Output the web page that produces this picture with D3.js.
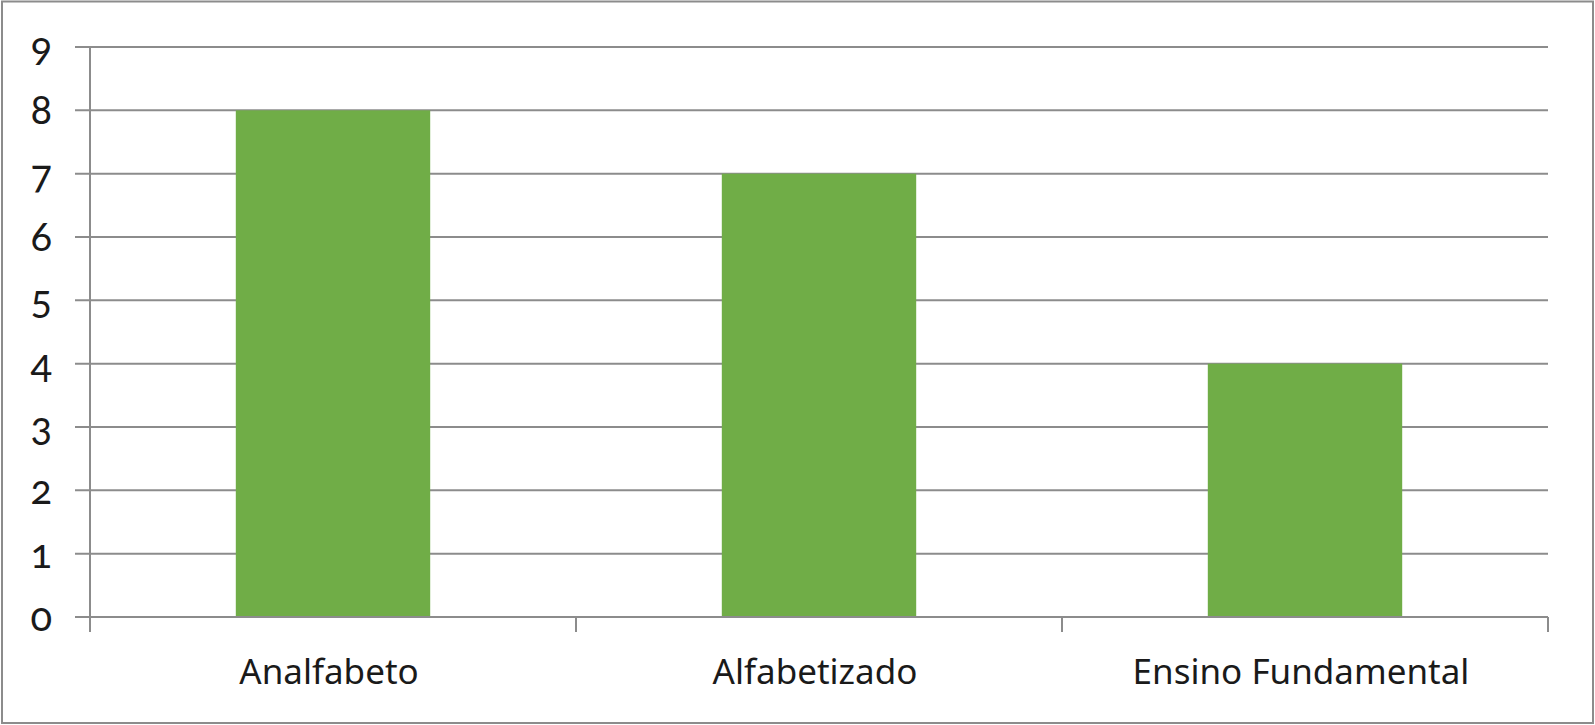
<!DOCTYPE html>
<html>
<head>
<meta charset="utf-8">
<script src="https://cdn.jsdelivr.net/npm/d3@7"></script>
<style>
  body { margin: 0; background: #fff; }
  svg text { font-family: "Noto Sans", "Open Sans", sans-serif; fill: #1a1a1a; }
  .ylab { font-family: Lato, "Noto Sans", sans-serif; font-variant-numeric: oldstyle-nums; font-feature-settings: "onum" 1; }
</style>
</head>
<body>
<div id="chart"></div>
<script>
// chart values
var categories = ["Analfabeto", "Alfabetizado", "Ensino Fundamental"];
var values = [8, 7, 4];
var yTicks = [0, 1, 2, 3, 4, 5, 6, 7, 8, 9];

var svgWidth = 1595;
var svgHeight = 725;
var margin = { top: 47, right: 47, bottom: 108, left: 90 };
var width = svgWidth - margin.left - margin.right;
var height = svgHeight - margin.top - margin.bottom;

var svg = d3.select("#chart")
  .append("svg")
  .attr("width", svgWidth)
  .attr("height", svgHeight);

// outer frame
svg.append("rect")
  .attr("x", 2).attr("y", 1.5)
  .attr("width", svgWidth - 4).attr("height", svgHeight - 3.5)
  .attr("fill", "none")
  .attr("stroke", "#8c8c8c")
  .attr("stroke-width", 2);

var chartGroup = svg.append("g")
  .attr("transform", `translate(${margin.left}, ${margin.top})`);

var x = d3.scaleBand()
  .domain(categories)
  .range([0, width])
  .paddingInner(0.6)
  .paddingOuter(0.3);

var y = d3.scaleLinear()
  .domain([0, 9])
  .range([height, 0]);

// gridlines with tick stubs on the left
chartGroup.append("g")
  .selectAll("line")
  .data(yTicks)
  .enter()
  .append("line")
  .attr("x1", -15)
  .attr("x2", width)
  .attr("y1", d => y(d))
  .attr("y2", d => y(d))
  .attr("stroke", "#8c8c8c")
  .attr("stroke-width", 2);

// y labels
chartGroup.append("g")
  .selectAll("text")
  .data(yTicks)
  .enter()
  .append("text")
  .attr("class", "ylab")
  .attr("x", -38)
  .attr("y", d => y(d))
  .attr("dy", "0.35em")
  .attr("text-anchor", "end")
  .style("font-size", "40px")
  .text(d => d);

// bars
chartGroup.selectAll("rect.bar")
  .data(values)
  .enter()
  .append("rect")
  .attr("class", "bar")
  .attr("x", (d, i) => x(categories[i]))
  .attr("y", d => y(d))
  .attr("width", x.bandwidth())
  .attr("height", d => height - y(d))
  .attr("fill", "#70ad47");

// axes lines
chartGroup.append("line")
  .attr("x1", 0).attr("x2", 0)
  .attr("y1", 0).attr("y2", height + 15)
  .attr("stroke", "#8c8c8c")
  .attr("stroke-width", 2);

chartGroup.append("line")
  .attr("x1", 0).attr("x2", width)
  .attr("y1", height).attr("y2", height)
  .attr("stroke", "#8c8c8c")
  .attr("stroke-width", 2);

// category boundary ticks
var step = x.step();
chartGroup.append("g")
  .selectAll("line")
  .data(d3.range(categories.length + 1))
  .enter()
  .append("line")
  .attr("x1", d => d * step)
  .attr("x2", d => d * step)
  .attr("y1", height)
  .attr("y2", height + 15)
  .attr("stroke", "#8c8c8c")
  .attr("stroke-width", 2);

// x labels
chartGroup.append("g")
  .selectAll("text")
  .data(categories)
  .enter()
  .append("text")
  .attr("x", d => x(d) + x.bandwidth() / 2 - 4)
  .attr("y", height + 67)
  .attr("text-anchor", "middle")
  .style("font-size", "35px")
  .text(d => d);
</script>
</body>
</html>
